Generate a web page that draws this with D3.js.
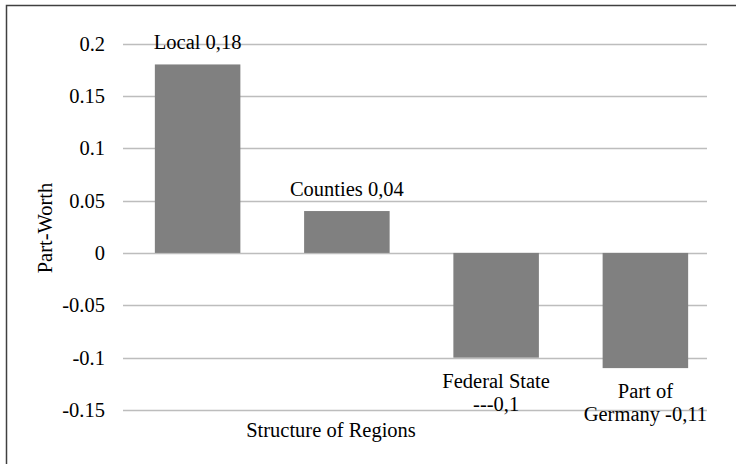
<!DOCTYPE html>
<html>
<head>
<meta charset="utf-8">
<script src="https://cdn.jsdelivr.net/npm/d3@7"></script>
<style>
  html, body { margin: 0; padding: 0; background: #fff; }
  svg { display: block; }
  svg text { font-family: "Liberation Serif", "Times New Roman", serif; font-size: 20.5px; fill: #000; }
</style>
</head>
<body>
<div id="chart"></div>
<script>
const categories = ["Local", "Counties", "Federal State", "Part of Germany"];
const values = [0.18, 0.04, -0.1, -0.11];
const barLabels = [["Local 0,18"], ["Counties 0,04"], ["Federal State", "---0,1"], ["Part of", "Germany -0,11"]];
const yTicks = [-0.15, -0.1, -0.05, 0, 0.05, 0.1, 0.15, 0.2];
const xTitle = "Structure of Regions";
const yTitle = "Part-Worth";

const width = 736, height = 464;

const svg = d3.select("#chart").append("svg")
    .attr("width", width)
    .attr("height", height);

// frame round the chart area (runs off the right and bottom edges)
svg.append("rect")
    .attr("x", 6.5).attr("y", 5.5)
    .attr("width", 740).attr("height", 470)
    .attr("fill", "none")
    .attr("stroke", "#404040")
    .attr("stroke-width", 1.5);

const x = d3.scaleBand()
    .domain(categories)
    .range([125, 718])
    .paddingInner(0.427)
    .paddingOuter(0.2);

const y = d3.scaleLinear()
    .domain([-0.15, 0.2])
    .range([410, 43.5]);

// gridlines
svg.append("g")
    .selectAll("line")
    .data(yTicks)
    .join("line")
    .attr("x1", 123).attr("x2", 707)
    .attr("y1", d => Math.round(y(d)) + 0.5)
    .attr("y2", d => Math.round(y(d)) + 0.5)
    .attr("stroke", "#bdbdbd")
    .attr("stroke-width", 1.5);

// y axis labels
const yAxis = svg.append("g")
    .attr("transform", "translate(123,0)")
    .call(d3.axisLeft(y).tickValues(yTicks).tickSize(0).tickPadding(18).tickFormat(d => d === 0 ? "0" : String(d)));
yAxis.select(".domain").remove();
yAxis.attr("font-family", null).attr("font-size", null);

// bars
svg.append("g")
    .selectAll("rect")
    .data(values)
    .join("rect")
    .attr("x", (d, i) => x(categories[i]))
    .attr("width", x.bandwidth())
    .attr("y", d => y(Math.max(0, d)))
    .attr("height", d => Math.abs(y(d) - y(0)))
    .attr("fill", "#808080");

// data labels
const labels = svg.append("g")
    .selectAll("text")
    .data(values)
    .join("text")
    .attr("text-anchor", "middle")
    .attr("transform", (d, i) => {
        const cx = x(categories[i]) + x.bandwidth() / 2;
        const by = d >= 0 ? y(d) - 15 : y(d) + 30;
        return `translate(${cx},${by})`;
    });

labels.selectAll("tspan")
    .data((d, i) => barLabels[i])
    .join("tspan")
    .attr("x", 0)
    .attr("dy", (d, j) => j === 0 ? 0 : 23)
    .text(d => d);

// axis titles
svg.append("text")
    .attr("x", 331).attr("y", 437)
    .attr("text-anchor", "middle")
    .text(xTitle);

svg.append("text")
    .attr("transform", "translate(52,228) rotate(-90)")
    .attr("text-anchor", "middle")
    .text(yTitle);
</script>
</body>
</html>
